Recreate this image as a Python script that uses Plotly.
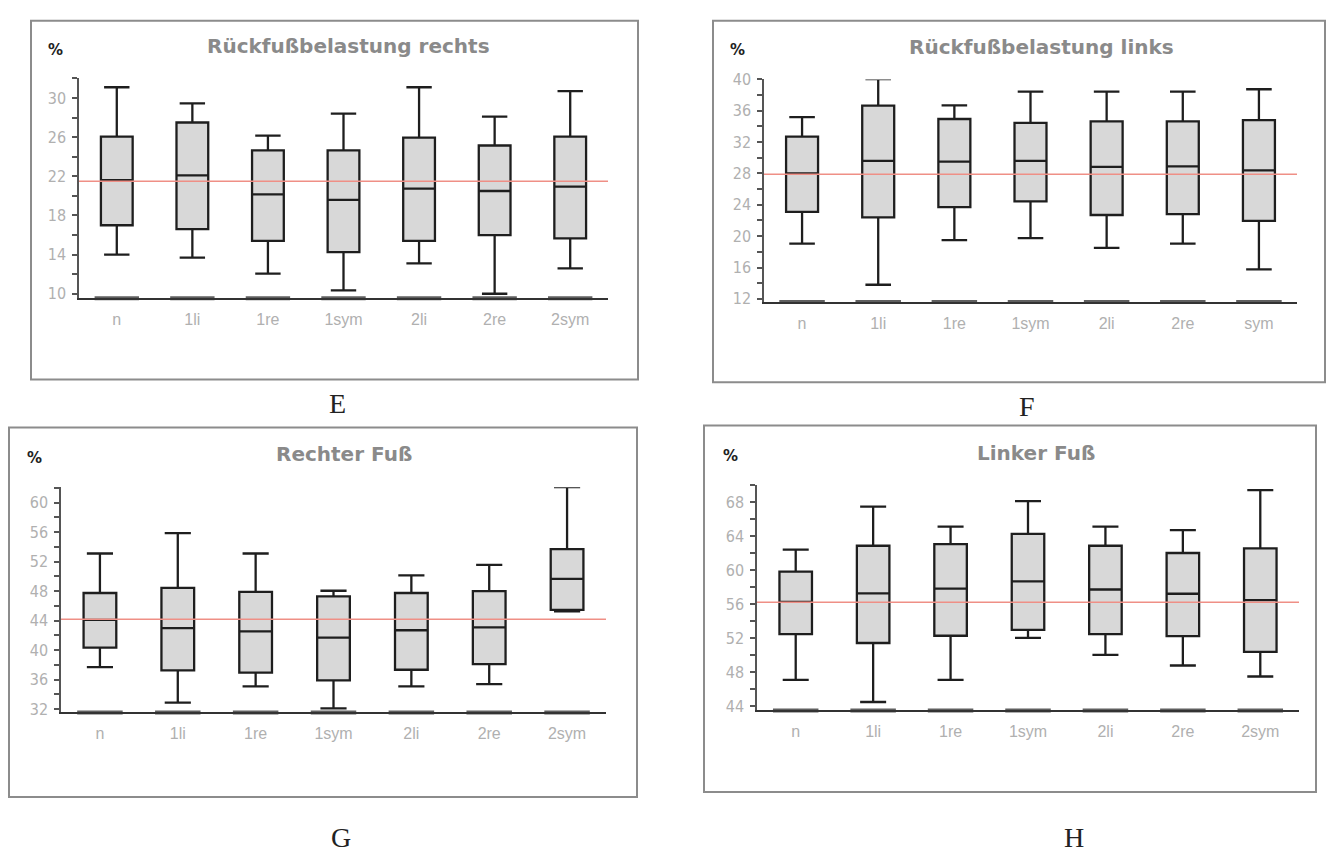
import plotly.graph_objects as go

W, H = 1326, 856

# ---------------- data ----------------
cats_E = ["n", "1li", "1re", "1sym", "2li", "2re", "2sym"]
E_low = [14.0, 13.7, 12.05, 10.35, 13.1, 10.0, 12.6]
E_q1 = [17.0, 16.6, 15.4, 14.25, 15.4, 16.0, 15.65]
E_med = [21.6, 22.1, 20.15, 19.6, 20.75, 20.5, 20.95]
E_q3 = [26.05, 27.5, 24.65, 24.65, 25.95, 25.15, 26.05]
E_high = [31.1, 29.45, 26.15, 28.4, 31.1, 28.1, 30.7]
E_ref = 21.5

cats_F = ["n", "1li", "1re", "1sym", "2li", "2re", "sym"]
F_low = [19.05, 13.8, 19.5, 19.75, 18.5, 19.05, 15.75]
F_q1 = [23.1, 22.4, 23.7, 24.45, 22.7, 22.8, 21.95]
F_med = [28.0, 29.6, 29.5, 29.6, 28.85, 28.9, 28.4]
F_q3 = [32.7, 36.65, 34.95, 34.45, 34.65, 34.65, 34.8]
F_high = [35.2, 40.05, 36.7, 38.45, 38.45, 38.45, 38.75]
F_ref = 27.9

cats_G = ["n", "1li", "1re", "1sym", "2li", "2re", "2sym"]
G_low = [37.7, 32.9, 35.1, 32.1, 35.1, 35.4, 45.25]
G_q1 = [40.35, 37.25, 36.95, 35.9, 37.35, 38.1, 45.45]
G_med = [44.1, 43.0, 42.55, 41.7, 42.7, 43.1, 49.65]
G_q3 = [47.75, 48.45, 47.9, 47.3, 47.75, 48.0, 53.7]
G_high = [53.1, 55.85, 53.1, 48.05, 50.15, 51.55, 62.1]
G_ref = 44.2

cats_H = ["n", "1li", "1re", "1sym", "2li", "2re", "2sym"]
H_low = [47.1, 44.5, 47.1, 52.05, 50.05, 48.8, 47.5]
H_q1 = [52.5, 51.45, 52.3, 53.0, 52.5, 52.25, 50.4]
H_med = [56.3, 57.3, 57.85, 58.7, 57.75, 57.25, 56.5]
H_q3 = [59.85, 62.9, 63.1, 64.3, 62.9, 62.05, 62.6]
H_high = [62.45, 67.5, 65.15, 68.15, 65.15, 64.75, 69.45]
H_ref = 56.25

titles = ["Rückfußbelastung rechts", "Rückfußbelastung links", "Rechter Fuß", "Linker Fuß"]
letters = ["E", "F", "G", "H"]

# ---------------- layout geometry (pixels) ----------------
panels = [
    dict(cats=cats_E, low=E_low, q1=E_q1, med=E_med, q3=E_q3, high=E_high, ref=E_ref,
         xdom=(79, 608), ydom=(70.7, 294.3), yr=(9.55, 32.0), tick0=10,
         frame=(31, 12, 638, 377), title=(348, 38), pct=(55, 42), letter=(337, 402), bw=31.7),
    dict(cats=cats_F, low=F_low, q1=F_q1, med=F_med, q3=F_q3, high=F_high, ref=F_ref,
         xdom=(764, 1297), ydom=(71.7, 298.3), yr=(11.59, 40.0), tick0=12,
         frame=(713, 12, 1325, 380), title=(1041, 39), pct=(737, 42), letter=(1027, 405), bw=32.5),
    dict(cats=cats_G, low=G_low, q1=G_q1, med=G_med, q3=G_q3, high=G_high, ref=G_ref,
         xdom=(61, 606), ydom=(486.7, 716), yr=(31.56, 62.09), tick0=32,
         frame=(9, 426, 637, 802), title=(344, 453), pct=(34, 457), letter=(341, 843), bw=32.5),
    dict(cats=cats_H, low=H_low, q1=H_q1, med=H_med, q3=H_q3, high=H_high, ref=H_ref,
         xdom=(757, 1299), ydom=(484.3, 714), yr=(43.5, 70.08), tick0=44,
         frame=(704, 424, 1316, 797), title=(1036, 452), pct=(730, 455), letter=(1074, 843), bw=32.5),
]

def px(x):
    return x / W

def py(y):
    return 1 - y / H

fig = go.Figure()
shapes = []
annotations = []
layout_axes = {}

for i, p in enumerate(panels):
    n = "" if i == 0 else str(i + 1)
    xa, ya = "x" + n, "y" + n
    fig.add_trace(go.Box(
        x=p["cats"], q1=p["q1"], median=p["med"], q3=p["q3"],
        lowerfence=p["low"], upperfence=p["high"],
        fillcolor="#d8d8d8", line=dict(color="#1e1e1e", width=2.3),
        width=0.42, whiskerwidth=0.8, boxpoints=False,
        xaxis=xa, yaxis=ya, showlegend=False, hoverinfo="skip"))
    # collapsed baseline bars at each category
    fig.add_trace(go.Scatter(
        x=p["cats"], y=[p["yr"][0]] * len(p["cats"]), mode="markers",
        marker=dict(symbol="line-ew", size=p["bw"], line=dict(width=4, color="#5f5f5f")),
        cliponaxis=False, xaxis=xa, yaxis=ya, showlegend=False, hoverinfo="skip"))

    layout_axes["xaxis" + n] = dict(
        domain=[px(p["xdom"][0]), px(p["xdom"][1])], anchor=ya, type="category",
        range=[-0.5, 6.5], showline=True, linecolor="#333", linewidth=1.5,
        ticks="", showgrid=False, zeroline=False, ticklabelstandoff=6,
        tickfont=dict(family="Liberation Sans, Arial, sans-serif", size=16, color="#b0b0b0"))
    layout_axes["yaxis" + n] = dict(
        domain=[py(p["ydom"][1]), py(p["ydom"][0])], anchor=xa,
        range=list(p["yr"]), tick0=p["tick0"], dtick=4,
        ticks="outside", ticklen=5, tickwidth=1.5, tickcolor="#555",
        showline=True, linecolor="#555", linewidth=1.5,
        showgrid=False, zeroline=False, ticklabelstandoff=3,
        minor=dict(tick0=p["tick0"], dtick=2, ticks="outside", ticklen=5,
                   tickwidth=1.5, tickcolor="#555", showgrid=False),
        tickfont=dict(family="Liberation Sans Narrow, DejaVu Sans Condensed, Arial Narrow, sans-serif",
                      size=16, color="#b0b0b0"))

    # reference line
    shapes.append(dict(type="line", xref=xa + " domain", yref=ya, x0=0, x1=1,
                       y0=p["ref"], y1=p["ref"], line=dict(color="#ef8f86", width=1.6),
                       layer="above"))
    # frame
    fx0, fy0, fx1, fy1 = p["frame"]
    shapes.append(dict(type="rect", xref="paper", yref="paper",
                       x0=px(fx0), x1=px(fx1), y0=py(fy1), y1=py(fy0),
                       line=dict(color="#8c8c8c", width=2), layer="below"))
    annotations.append(dict(text="<b>" + titles[i] + "</b>", xref="paper", yref="paper",
                            x=px(p["title"][0]), y=py(p["title"][1]), xanchor="center", yanchor="middle",
                            showarrow=False,
                            font=dict(family="DejaVu Sans, Verdana, sans-serif", size=20, color="#8a8a8a")))
    annotations.append(dict(text="<b>%</b>", xref="paper", yref="paper",
                            x=px(p["pct"][0]), y=py(p["pct"][1]), xanchor="center", yanchor="middle",
                            showarrow=False,
                            font=dict(family="DejaVu Sans, sans-serif", size=15, color="#222")))
    annotations.append(dict(text=letters[i], xref="paper", yref="paper",
                            x=px(p["letter"][0]), y=py(p["letter"][1]), xanchor="center", yanchor="middle",
                            showarrow=False,
                            font=dict(family="Liberation Serif, Times New Roman, serif", size=28, color="#222")))

fig.update_layout(
    width=W, height=H, margin=dict(l=0, r=0, t=0, b=0),
    paper_bgcolor="white", plot_bgcolor="white",
    shapes=shapes, annotations=annotations, showlegend=False,
    **layout_axes)

fig.write_html("out.html", config={"displayModeBar": False},
               post_script="document.body.style.margin='0';document.body.style.overflow='hidden';")
